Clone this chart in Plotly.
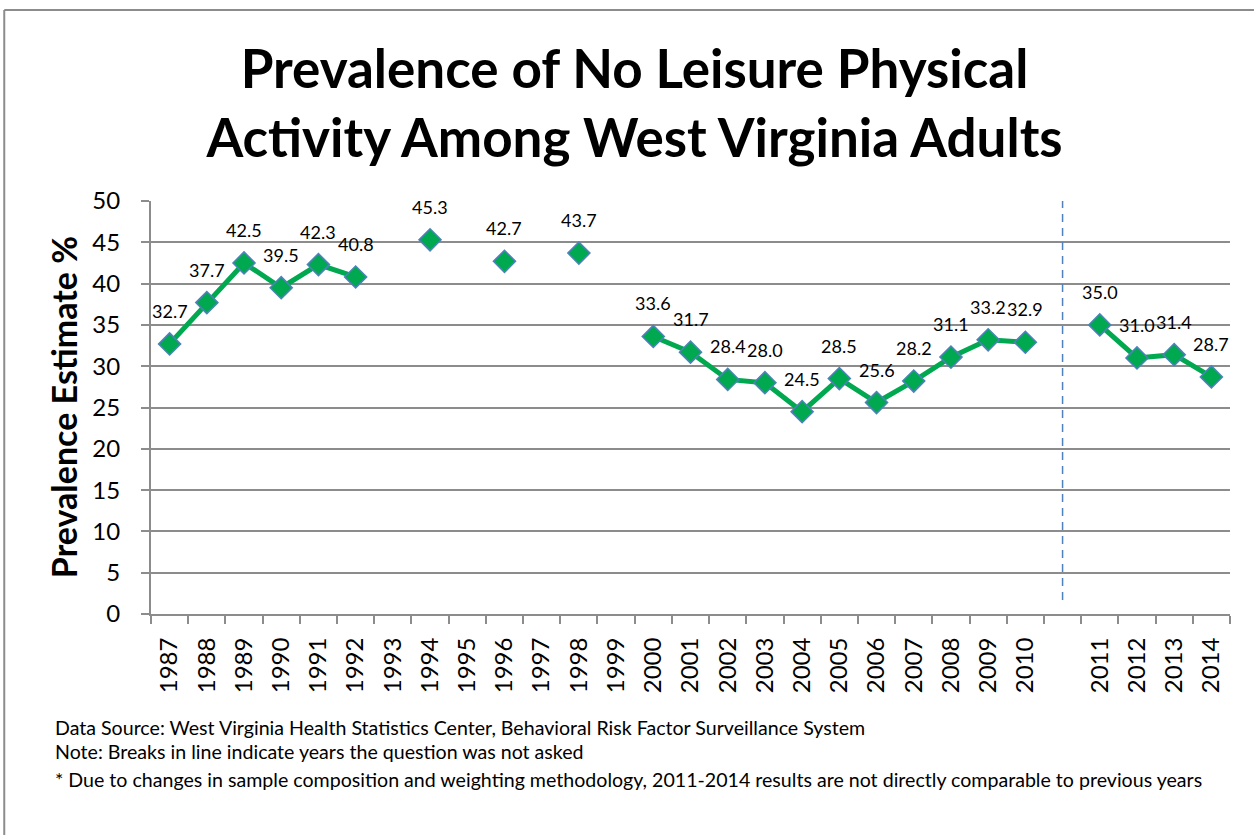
import plotly.graph_objects as go

years = ["1987", "1988", "1989", "1990", "1991", "1992", "1993", "1994", "1995", "1996",
         "1997", "1998", "1999", "2000", "2001", "2002", "2003", "2004", "2005", "2006",
         "2007", "2008", "2009", "2010", " ", "2011", "2012", "2013", "2014"]
values = [32.7, 37.7, 42.5, 39.5, 42.3, 40.8, None, 45.3, None, 42.7,
          None, 43.7, None, 33.6, 31.7, 28.4, 28.0, 24.5, 28.5, 25.6,
          28.2, 31.1, 33.2, 32.9, None, 35.0, 31.0, 31.4, 28.7]
y_ticks = [0, 5, 10, 15, 20, 25, 30, 35, 40, 45, 50]
break_category = " "

title_text = "Prevalence of No Leisure Physical<br>Activity Among West Virginia Adults"
y_title = "Prevalence Estimate %"
notes = [
    "Data Source: West Virginia Health Statistics Center, Behavioral Risk Factor Surveillance System",
    "Note: Breaks in line indicate years the question was not asked",
    "* Due to changes in sample composition and weighting methodology, 2011-2014 results are not directly comparable to previous years",
]

FONT = "Lato"
GREEN = "#00A84F"
BLUE = "#4F81BD"
GRID = "#8C8C8C"

fig = go.Figure()
fig.add_trace(go.Scatter(
    x=years, y=values, mode="lines+markers", connectgaps=False,
    line=dict(color=GREEN, width=5),
    marker=dict(symbol="diamond", size=17, color=GREEN, line=dict(color=BLUE, width=1.5)),
    showlegend=False, hoverinfo="x+y",
))

annotations = []
for i, v in enumerate(values):
    if v is None:
        continue
    annotations.append(dict(x=i, y=v, xref="x", yref="y", text=f"{v:.1f}", showarrow=False,
                            yshift=33, yanchor="middle", xanchor="center",
                            font=dict(family=FONT, size=18, color="black")))

annotations.append(dict(text=f"<b>{y_title}</b>", xref="paper", yref="paper", x=-0.0815, y=0.501,
                        textangle=-90, showarrow=False, xanchor="center", yanchor="middle",
                        font=dict(family=FONT, size=34, color="black")))
note_y = [-0.276, -0.334, -0.400]
for t, yy in zip(notes, note_y):
    annotations.append(dict(text=t, xref="paper", yref="paper", x=-0.091, y=yy, xanchor="left",
                            yanchor="middle", showarrow=False,
                            font=dict(family=FONT, size=19.6, color="black")))

shapes = [
    dict(type="line", xref="x", yref="y", x0=years.index(break_category), x1=years.index(break_category),
         y0=1.7, y1=50, line=dict(color=BLUE, width=1.5, dash="8px,6px")),
    dict(type="line", xref="paper", yref="paper", x0=-0.136, x1=1.03, y0=1.4625, y1=1.4625,
         line=dict(color=GRID, width=2)),
    dict(type="line", xref="paper", yref="paper", x0=-0.136, x1=-0.136, y0=-0.54, y1=1.4625,
         line=dict(color=GRID, width=2)),
]

fig.update_layout(
    width=1254, height=835,
    margin=dict(l=151, r=24, t=201, b=221),
    paper_bgcolor="white", plot_bgcolor="white",
    title=dict(text=f"<b>{title_text}</b>", x=0.506, xref="container", xanchor="center",
               y=0.895, yref="container", yanchor="middle",
               font=dict(family=FONT, size=53, color="black")),
    annotations=annotations, shapes=shapes,
    font=dict(family=FONT, color="black"),
)
fig.update_xaxes(type="category", categoryorder="array", categoryarray=years,
                 tickangle=-90, tickfont=dict(family=FONT, size=24, color="black"),
                 showgrid=False, showline=True, linecolor=GRID, linewidth=2,
                 ticks="outside", ticklen=8, tickcolor=GRID, tickwidth=2, tickson="boundaries",
                 ticklabelstandoff=12, automargin=False,
                 range=[-0.5, len(years) - 0.5])
fig.update_yaxes(range=[0, 50], tickvals=y_ticks, tickfont=dict(family=FONT, size=24, color="black"),
                 showgrid=True, gridcolor=GRID, gridwidth=2, showline=True, linecolor=GRID, linewidth=2,
                 ticks="outside", ticklen=8, tickcolor=GRID, tickwidth=2, zeroline=False,
                 ticklabelstandoff=16, automargin=False)

fig.write_html("out.html", config={"displayModeBar": False},
               post_script="document.body.style.margin='0';document.body.style.overflow='hidden';")
